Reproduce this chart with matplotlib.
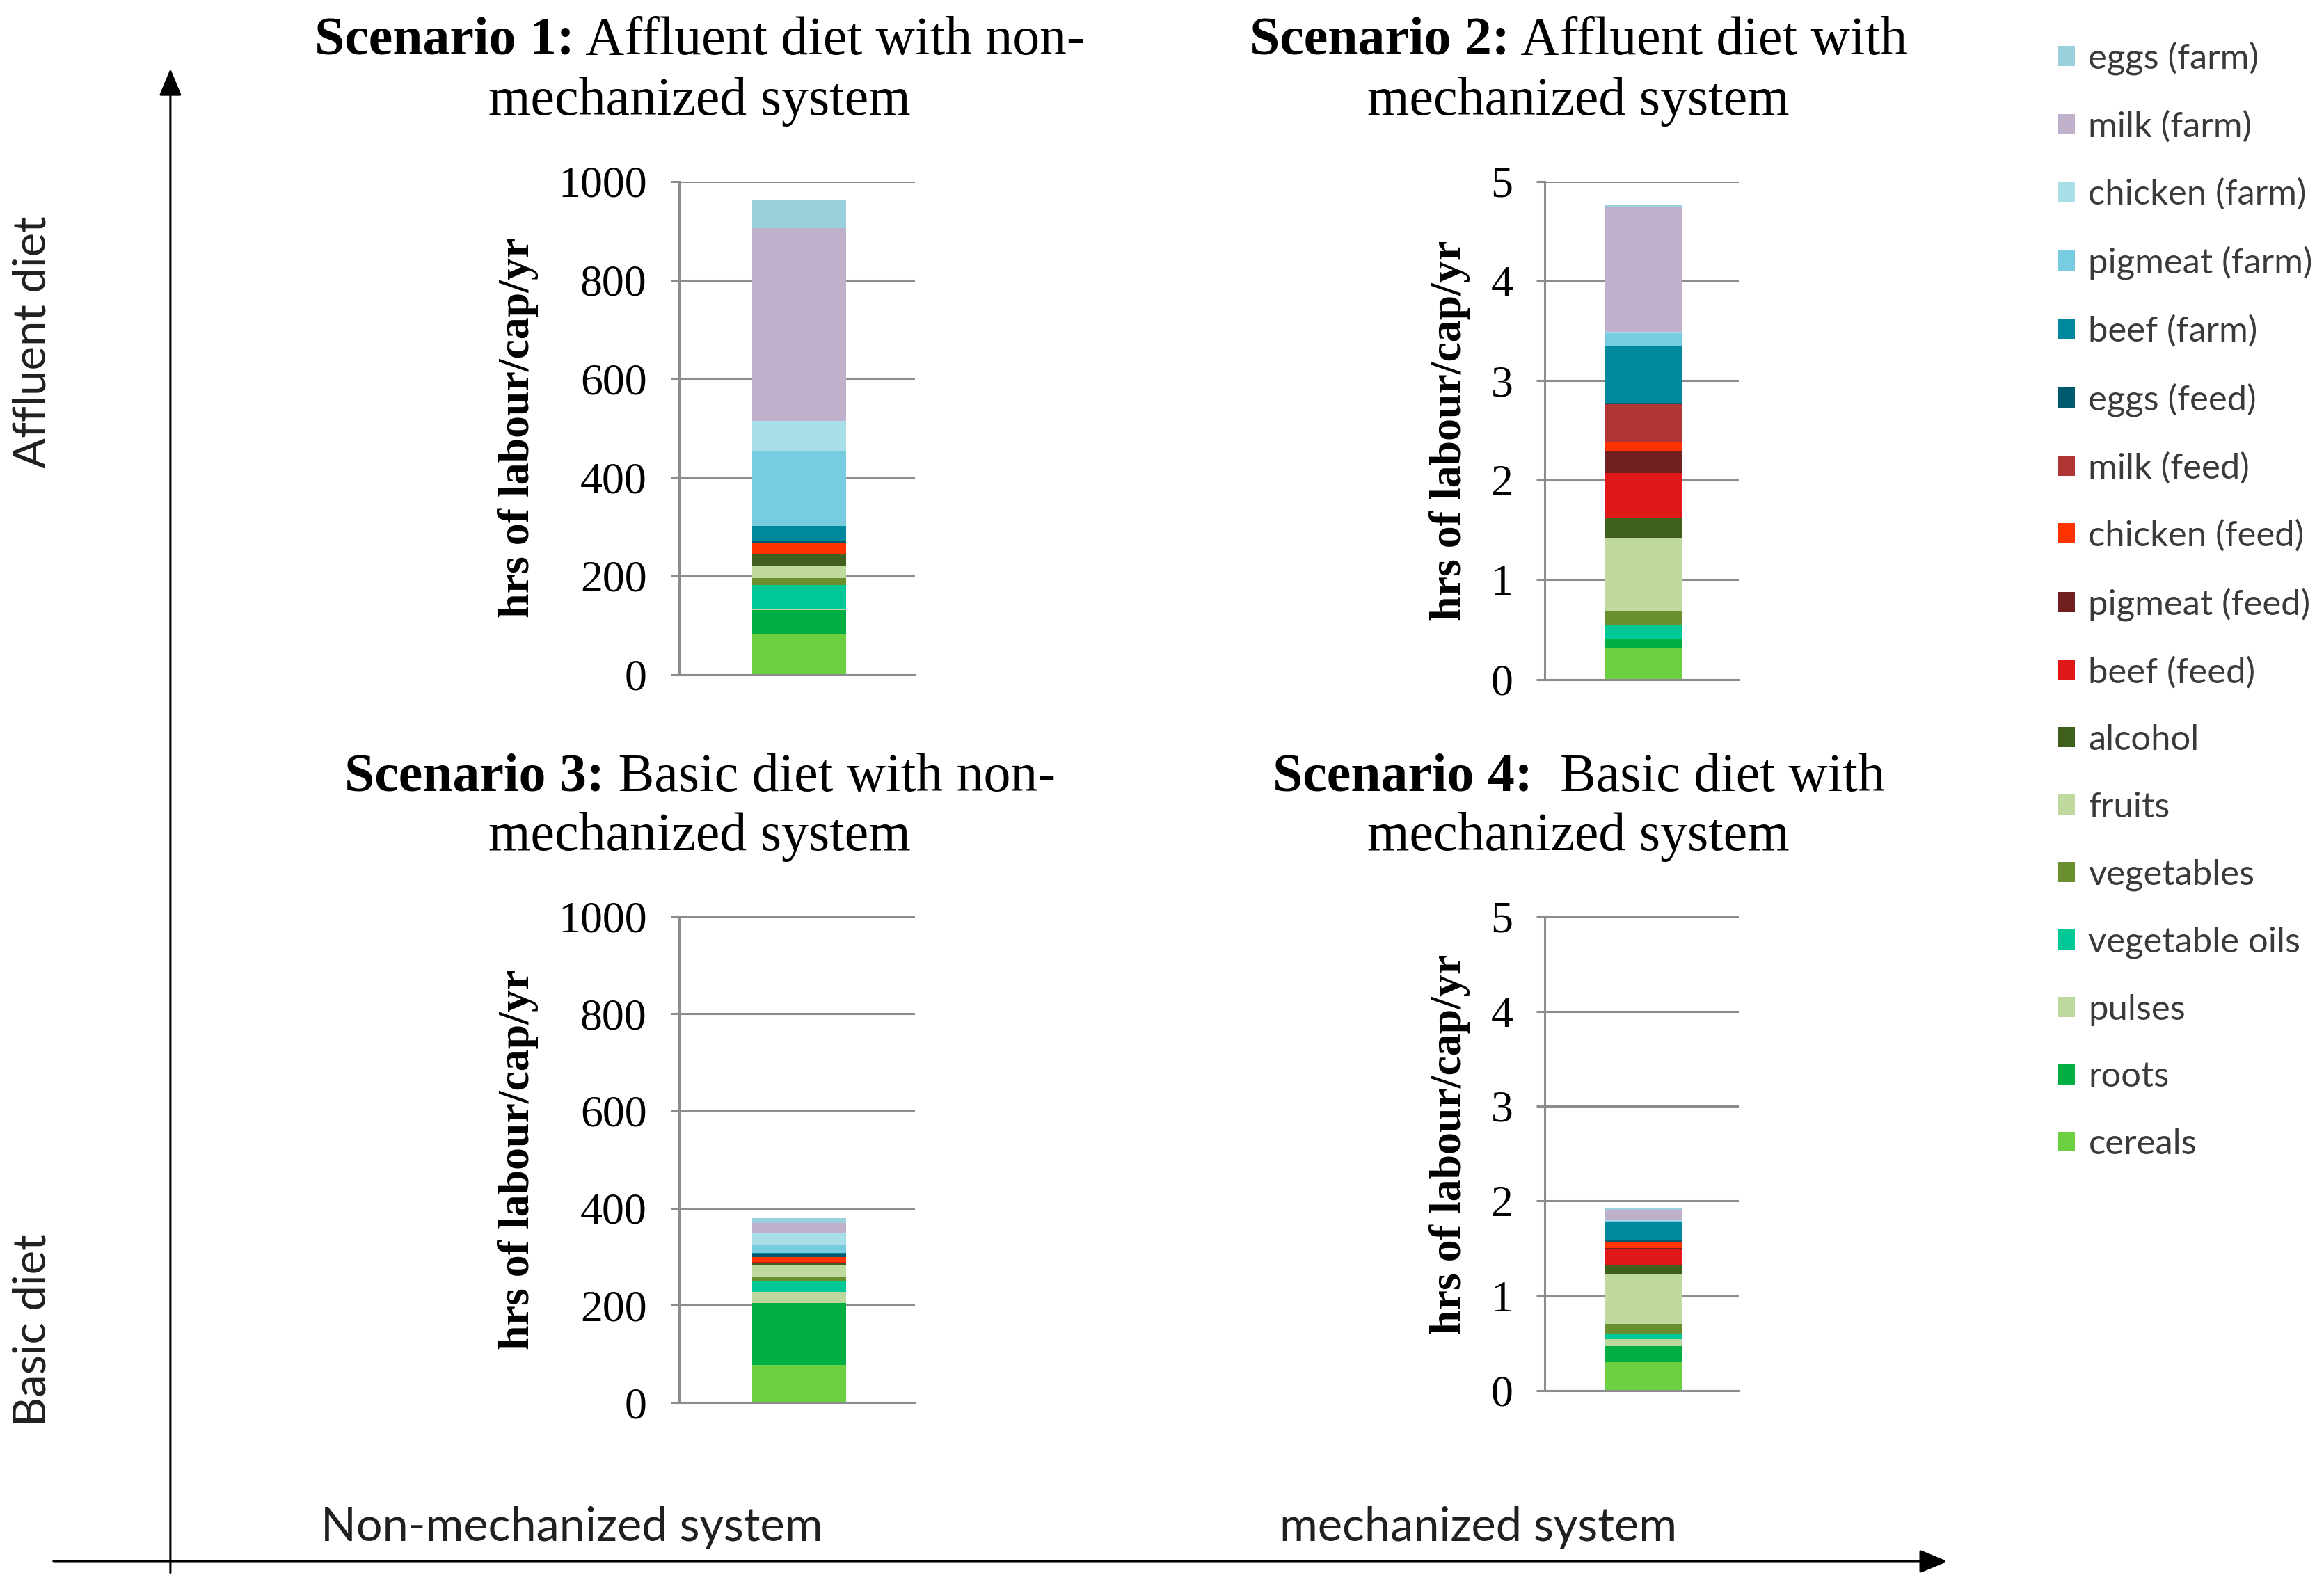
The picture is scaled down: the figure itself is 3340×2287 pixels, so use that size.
#!/usr/bin/env python
# -*- coding: utf-8 -*-

'''
Labour hours per capita per year for four diet / farming-system scenarios.
'''

import numpy as np
import matplotlib
matplotlib.use('Agg')
import matplotlib.pyplot as plt

# food groups, bottom of the stack first
categories = ['cereals', 'roots', 'pulses', 'vegetable oils', 'vegetables',
              'fruits', 'alcohol', 'beef (feed)', 'pigmeat (feed)',
              'chicken (feed)', 'milk (feed)', 'eggs (feed)', 'beef (farm)',
              'pigmeat (farm)', 'chicken (farm)', 'milk (farm)', 'eggs (farm)']

colors = ['#6CD040', '#00AF44', '#BDD89E', '#00C896', '#6A8F2E',
          '#BFD99F', '#3F5F1C', '#E01818', '#721F1F',
          '#FF3300', '#B03535', '#005A6E', '#00889F',
          '#78CCDF', '#A8DEE8', '#BFB0CC', '#9ACFDC']

# hrs of labour/cap/yr, same order as categories
scenario1 = [82, 49, 2, 48, 15, 24, 24, 0, 0, 23, 0, 4, 31, 151, 62, 390, 56]
scenario2 = [0.32, 0.08, 0.01, 0.13, 0.15, 0.73, 0.20, 0.45, 0.22, 0.09,
             0.38, 0.01, 0.57, 0.14, 0.01, 1.25, 0.02]
scenario3 = [78, 127, 23, 22, 10, 23, 5, 1, 1, 9, 1, 5, 3, 17, 24, 20, 10]
scenario4 = [0.30, 0.17, 0.07, 0.06, 0.10, 0.53, 0.10, 0.16, 0.01, 0.06,
             0.01, 0.01, 0.20, 0.01, 0.01, 0.10, 0.02]

titles_bold = ['Scenario 1:', 'Scenario 2:', 'Scenario 3:', 'Scenario 4:']
titles_rest = [' Affluent diet with non-', ' Affluent diet with',
               ' Basic diet with non-', '  Basic diet with']
titles_line2 = ['mechanized system', 'mechanized system',
                'mechanized system', 'mechanized system']

yticks_nonmech = [0, 200, 400, 600, 800, 1000]
yticks_mech = [0, 1, 2, 3, 4, 5]

SERIF = 'Liberation Serif'
SANS = 'Lato'
GRID = '#8C8C8C'


def drawScenario(fig, rect, values, yticks, labelX, labelY):
    ax = fig.add_axes(rect)
    bottom = 0.0
    handles = []
    for cat, val, col in zip(categories, values, colors):
        h = ax.bar([0], [val], width=0.4, bottom=bottom, color=col,
                   label=cat, linewidth=0)
        handles.append(h)
        bottom += val
    ax.set_xlim(-0.51, 0.49)
    ax.set_ylim(yticks[0], yticks[-1])
    ax.set_yticks(yticks)
    ax.set_yticklabels([str(t) for t in yticks], fontfamily=SERIF,
                       fontsize=46)
    ax.set_xticks([])
    ax.set_axisbelow(True)
    ax.grid(axis='y', color=GRID, linewidth=2.2)
    for side in ['top', 'right']:
        ax.spines[side].set_visible(False)
    for side in ['left', 'bottom']:
        ax.spines[side].set_color(GRID)
        ax.spines[side].set_linewidth(2.2)
    ax.tick_params(axis='y', direction='out', length=9, width=2.2,
                   color=GRID, pad=24)
    ax.text(labelX, labelY, 'hrs of labour/cap/yr', transform=ax.transAxes,
            rotation=90, ha='center', va='center', fontfamily=SERIF,
            fontweight='bold', fontsize=46)
    return ax, handles


def mixedTitle(fig, x, y, bold, rest, size):
    renderer = fig.canvas.get_renderer()
    t1 = fig.text(0, y, bold, fontfamily=SERIF, fontweight='bold',
                  fontsize=size, ha='left', va='center')
    t2 = fig.text(0, y, rest, fontfamily=SERIF, fontsize=size,
                  ha='left', va='center')
    w1 = t1.get_window_extent(renderer).width / fig.bbox.width
    w2 = t2.get_window_extent(renderer).width / fig.bbox.width
    left = x - (w1 + w2) / 2.0
    t1.set_x(left)
    t2.set_x(left + w1)


def main():
    fig = plt.figure(figsize=(33.41, 22.87), dpi=100)
    fig.patch.set_facecolor('white')

    rects = [[0.292, 0.576, 0.1015, 0.310],
             [0.6645, 0.573, 0.0835, 0.313],
             [0.292, 0.1184, 0.1015, 0.3056],
             [0.6645, 0.126, 0.0835, 0.298]]
    data = [scenario1, scenario2, scenario3, scenario4]
    ticks = [yticks_nonmech, yticks_mech, yticks_nonmech, yticks_mech]
    labelPos = [(-0.68, 0.5), (-0.49, 0.5), (-0.68, 0.5), (-0.49, 0.52)]

    handles = None
    for rect, vals, tk, lp in zip(rects, data, ticks, labelPos):
        ax, h = drawScenario(fig, rect, vals, tk, lp[0], lp[1])
        if handles is None:
            handles = h

    # scenario titles
    titleX = [0.301, 0.679, 0.301, 0.679]
    titleY1 = [0.974, 0.974, 0.511, 0.511]
    titleY2 = [0.936, 0.936, 0.474, 0.474]
    for i in range(4):
        mixedTitle(fig, titleX[i], titleY1[i], titles_bold[i],
                   titles_rest[i], 56)
        fig.text(titleX[i], titleY2[i], titles_line2[i], fontfamily=SERIF,
                 fontsize=56, ha='center', va='center')

    # big diet / system arrows
    fig.add_artist(matplotlib.patches.FancyArrowPatch(
        (0.0733, 0.0103), (0.0733, 0.958), transform=fig.transFigure,
        arrowstyle='-|>,head_length=0.6,head_width=0.25',
        mutation_scale=40, color='black', linewidth=2.2))
    fig.add_artist(matplotlib.patches.FancyArrowPatch(
        (0.0223, 0.0186), (0.8387, 0.0186), transform=fig.transFigure,
        arrowstyle='-|>,head_length=0.6,head_width=0.25',
        mutation_scale=40, color='black', linewidth=3))

    fig.text(0.014, 0.785, 'Affluent diet', rotation=90, ha='center',
             va='center', fontfamily=SANS, fontsize=47, color='#202020')
    fig.text(0.014, 0.164, 'Basic diet', rotation=90, ha='center',
             va='center', fontfamily=SANS, fontsize=47, color='#202020')
    fig.text(0.246, 0.040, 'Non-mechanized system', ha='center',
             va='center', fontfamily=SANS, fontsize=48, color='#202020')
    fig.text(0.636, 0.040, 'mechanized system', ha='center',
             va='center', fontfamily=SANS, fontsize=48, color='#202020')

    leg = fig.legend(handles[::-1], categories[::-1], loc='upper left',
                     bbox_to_anchor=(0.885, 0.974), frameon=False,
                     prop={'family': SANS, 'size': 36.5},
                     handlelength=0.5, handleheight=0.5,
                     handletextpad=0.38, labelspacing=1.0,
                     borderpad=0, borderaxespad=0)
    for t in leg.get_texts():
        t.set_color('#3A3A3A')

    fig.savefig('out.png', dpi=100, facecolor='white')


if __name__ == '__main__':
    main()
